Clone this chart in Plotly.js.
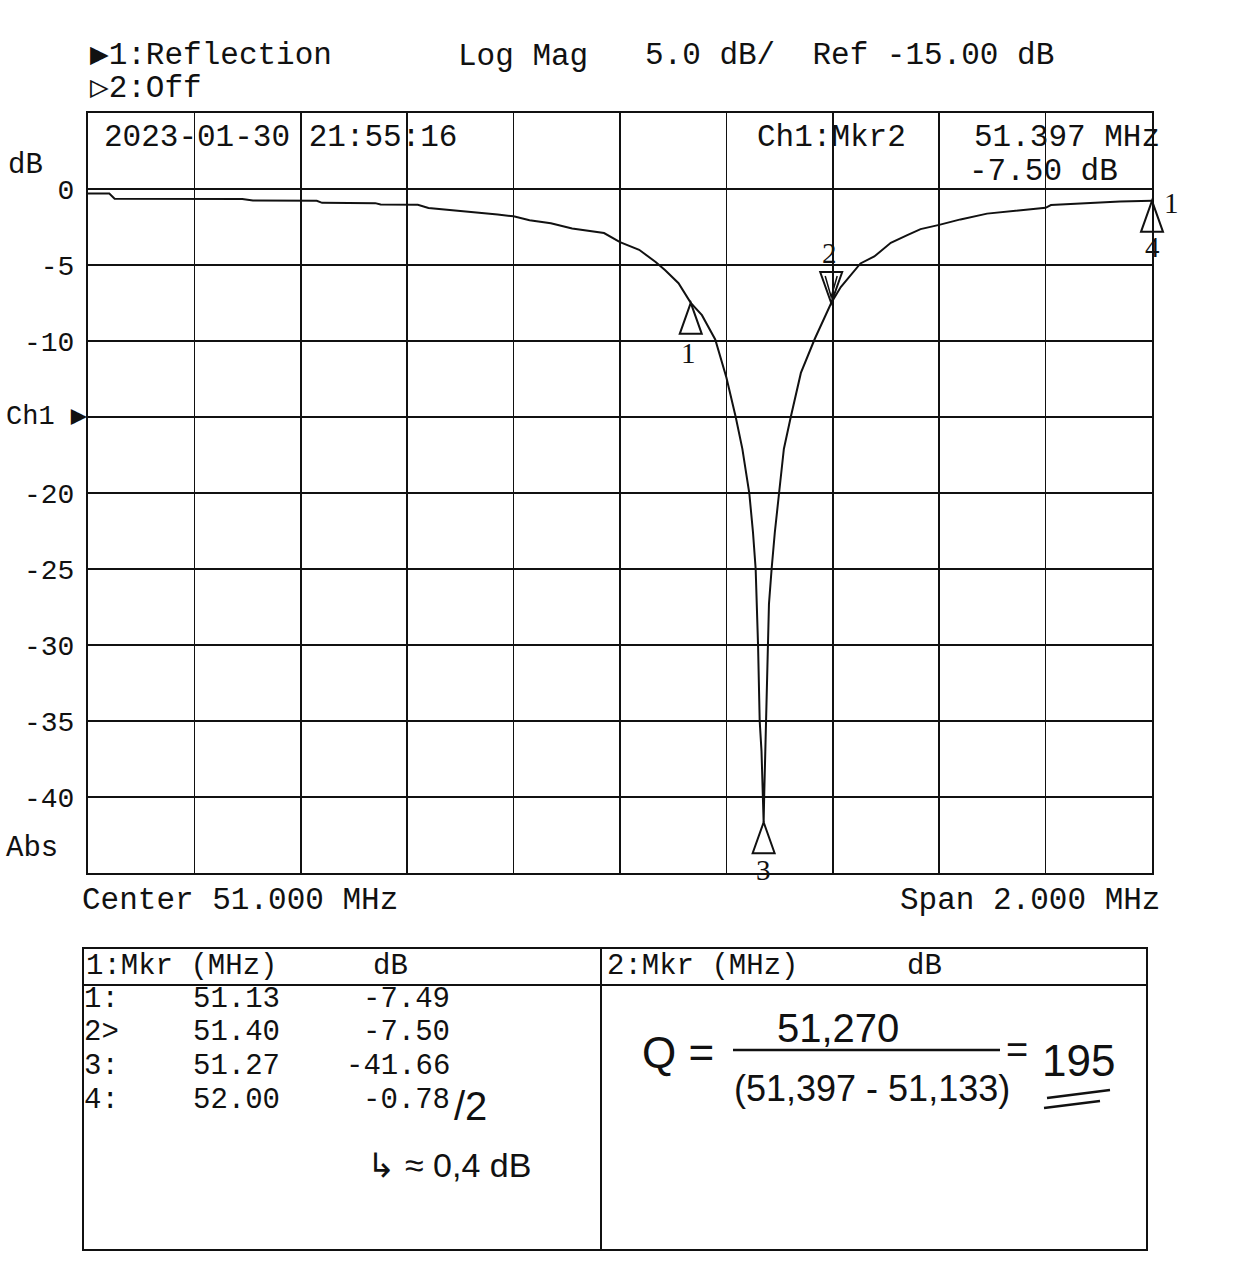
<!DOCTYPE html>
<html>
<head>
<meta charset="utf-8">
<script src="https://cdn.plot.ly/plotly-3.0.1.min.js"></script>
<style>html,body{margin:0;padding:0;background:#fff;}#chart{width:1254px;height:1273px;}</style>
</head>
<body>
<div id="chart"></div>
<script>
// ---------------- data ----------------
const freqMHz = [50.00, 50.04, 50.05, 50.20, 50.29, 50.31, 50.43, 50.44, 50.54, 50.55, 50.62, 50.64, 50.68, 50.73, 50.77, 50.80, 50.83, 50.87, 50.91, 50.97, 51.00, 51.036, 51.067, 51.085, 51.11, 51.133, 51.154, 51.179, 51.200, 51.2175, 51.230, 51.243, 51.250, 51.255, 51.2595, 51.2626, 51.266, 51.269, 51.270, 51.271, 51.2735, 51.2745, 51.277, 51.280, 51.285, 51.291, 51.299, 51.308, 51.321, 51.340, 51.366, 51.397, 51.415, 51.431, 51.452, 51.478, 51.509, 51.540, 51.565, 51.600, 51.640, 51.690, 51.750, 51.800, 51.810, 51.875, 51.940, 52.000];
const s11dB = [-0.30, -0.30, -0.64, -0.64, -0.66, -0.75, -0.78, -0.91, -0.93, -1.02, -1.04, -1.25, -1.40, -1.55, -1.68, -1.80, -2.05, -2.25, -2.60, -2.90, -3.50, -4.00, -4.80, -5.34, -6.20, -7.49, -8.30, -9.90, -12.40, -15.00, -17.10, -20.00, -22.60, -25.00, -30.00, -35.00, -37.00, -40.00, -41.66, -40.00, -36.50, -35.00, -30.00, -27.30, -25.00, -22.60, -20.00, -17.10, -15.00, -12.10, -9.87, -7.50, -6.45, -5.80, -4.90, -4.44, -3.54, -3.04, -2.64, -2.36, -2.00, -1.62, -1.40, -1.24, -1.06, -0.95, -0.83, -0.78];

const mkrLabel = ['1', '2', '3', '4'];
const mkrFreq  = [51.133, 51.397, 51.270, 52.000];
const mkrDb    = [-7.49, -7.50, -41.66, -0.78];
const activeMkr = '2';

const yTickVals = [0, -5, -10, -15, -20, -25, -30, -35, -40];
const yTickText = ['0', '-5', '-10', '', '-20', '-25', '-30', '-35', '-40'];
const refLabel = 'Ch1 \u25B6';   // reference level marker at -15 dB

const xRange = [50.0, 52.0];
const yRange = [-45, 5];

// ---------------- layout helpers ----------------
const L = 88, R = 1152, T = 113, B = 873;
function px(x) { return (x - L) / (R - L); }
function py(y) { return (B - y) / (B - T); }

const MONO = 'Liberation Mono, DejaVu Sans Mono, monospace';
const HAND = 'Liberation Sans, DejaVu Sans, sans-serif';
const INK = '#111';

const annotations = [];
function txt(text, x, y, size, xanchor, opts) {
  annotations.push(Object.assign({
    text: text, xref: 'paper', yref: 'paper', x: px(x), y: py(y),
    xanchor: xanchor || 'left', yanchor: 'middle', showarrow: false,
    font: {family: MONO, size: size, color: INK}
  }, opts || {}));
}

// header
txt('\u25B61:Reflection', 88, 55, 31);
txt('Log Mag', 456, 57, 31);
txt('5.0 dB/  Ref -15.00 dB', 643, 55, 31);
txt('\u25B72:Off', 88, 89, 31);
// inside plot
txt('2023-01-30 21:55:16', 102, 137, 31);
txt('Ch1:Mkr2', 755, 137, 31);
txt(mkrFreq[1].toFixed(3) + ' MHz', 1162, 137, 31, 'right');
txt(mkrDb[1].toFixed(2) + ' dB', 1120, 172, 31, 'right');
// axis side labels
txt('dB', 6, 165, 29);
txt('Abs', 4, 848, 29);
annotations.push({
  text: refLabel, xref: 'paper', yref: 'y', x: px(4), y: -15, xanchor: 'left', yanchor: 'middle',
  showarrow: false, font: {family: MONO, size: 27, color: INK}
});
// bottom labels
txt('Center 51.000 MHz', 80, 901, 31);
txt('Span 2.000 MHz', 1162, 901, 31, 'right');

// table
txt('1:Mkr (MHz)', 84, 966, 29);
txt('dB', 410, 966, 29, 'right');
txt('2:Mkr (MHz)', 605, 966, 29);
txt('dB', 944, 966, 29, 'right');
const rowY = [999, 1032, 1066, 1100];
for (let i = 0; i < mkrLabel.length; i++) {
  txt(mkrLabel[i] + (mkrLabel[i] === activeMkr ? '>' : ':'), 82, rowY[i], 29);
  txt(mkrFreq[i].toFixed(2), 282, rowY[i], 29, 'right');
  txt(mkrDb[i].toFixed(2), 452, rowY[i], 29, 'right');
}
// handwritten notes
txt('/2', 452, 1106, 40, 'left', {font: {family: HAND, size: 40, color: INK}});
txt('\u21B3 \u2248 0,4 dB', 365, 1165, 34, 'left', {font: {family: HAND, size: 34, color: INK}});
txt('Q =', 640, 1052, 44, 'left', {font: {family: HAND, size: 44, color: INK}});
txt('51,270', 838, 1028, 40, 'center', {font: {family: HAND, size: 40, color: INK}});
txt('(51,397 - 51,133)', 872, 1088, 36, 'center', {font: {family: HAND, size: 36, color: INK}});
txt('=', 1017, 1050, 38, 'center', {font: {family: HAND, size: 38, color: INK}});
txt('195', 1078, 1060, 44, 'center', {font: {family: HAND, size: 44, color: INK}});

// marker number labels (data referenced)
const lblShift = {'1': [-2, -50], '2': [-2, 50], '3': [0, -48], '4': [0, -46]};
for (let i = 0; i < mkrLabel.length; i++) {
  annotations.push({
    text: mkrLabel[i], xref: 'x', yref: 'y', x: mkrFreq[i], y: mkrDb[i],
    xshift: lblShift[mkrLabel[i]][0], yshift: lblShift[mkrLabel[i]][1],
    showarrow: false, font: {family: 'Liberation Serif, serif', size: 29, color: INK}
  });
}
// channel indicator next to marker 4
annotations.push({
  text: '1', xref: 'x', yref: 'y', x: mkrFreq[3], y: mkrDb[3], xshift: 10, yshift: -2,
  xanchor: 'left', showarrow: false, font: {family: 'Liberation Serif, serif', size: 29, color: INK}
});

// shapes
const shapes = [];
function line(x0, y0, x1, y1, w) {
  shapes.push({type: 'line', xref: 'paper', yref: 'paper', x0: px(x0), y0: py(y0), x1: px(x1), y1: py(y1),
    line: {color: INK, width: w || 2}});
}
// table box
shapes.push({type: 'rect', xref: 'paper', yref: 'paper', x0: px(83), y0: py(948), x1: px(1147), y1: py(1250),
  line: {color: INK, width: 2}});
line(83, 985, 1147, 985, 2);
line(601, 948, 601, 1250, 2);
// handwritten fraction line and underline
line(733, 1050, 1000, 1050, 2.5);
line(1047, 1098, 1110, 1090, 2.5);
line(1044, 1108, 1100, 1101, 2.5);

// marker triangles: anchored at data value, sized in pixels
for (let i = 0; i < mkrLabel.length; i++) {
  const down = mkrLabel[i] === activeMkr;
  const xa = (mkrFreq[i] - xRange[0]) / (xRange[1] - xRange[0]);
  const base = {type: 'path', xref: 'paper', yref: 'y', xsizemode: 'pixel', ysizemode: 'pixel',
    xanchor: xa, yanchor: mkrDb[i], line: {color: INK, width: 2}, fillcolor: 'rgba(0,0,0,0)'};
  if (down) {
    shapes.push(Object.assign({}, base, {path: 'M0,0 L-11,31 L11,31 Z'}));
    shapes.push(Object.assign({}, base, {path: 'M-6,27 L0,6 L6,27', line: {color: INK, width: 1.5}}));
  } else {
    shapes.push(Object.assign({}, base, {path: 'M0,0 L-11,-31 L11,-31 Z'}));
  }
}

const trace = {
  x: freqMHz, y: s11dB, type: 'scatter', mode: 'lines',
  line: {color: INK, width: 2}, hoverinfo: 'skip', showlegend: false
};

const layout = {
  width: 1254, height: 1273,
  margin: {l: L, r: 1254 - R, t: T, b: 1273 - B, pad: 0},
  paper_bgcolor: '#ffffff', plot_bgcolor: '#ffffff',
  showlegend: false,
  xaxis: {
    range: xRange, tick0: 50, dtick: 0.2, showgrid: true, gridcolor: INK, gridwidth: 1.6,
    showticklabels: false, ticks: '', zeroline: false,
    showline: true, mirror: true, linecolor: INK, linewidth: 2, fixedrange: true
  },
  yaxis: {
    range: yRange, tickvals: yTickVals, ticktext: yTickText, showgrid: true,
    gridcolor: INK, gridwidth: 1.6, ticks: '', zeroline: false,
    showline: true, mirror: true, linecolor: INK, linewidth: 2,
    tickfont: {family: MONO, size: 28, color: INK}, ticklabelstandoff: 6, fixedrange: true
  },
  annotations: annotations,
  shapes: shapes
};

Plotly.newPlot('chart', [trace], layout, {staticPlot: true, displayModeBar: false});
</script>
</body>
</html>
